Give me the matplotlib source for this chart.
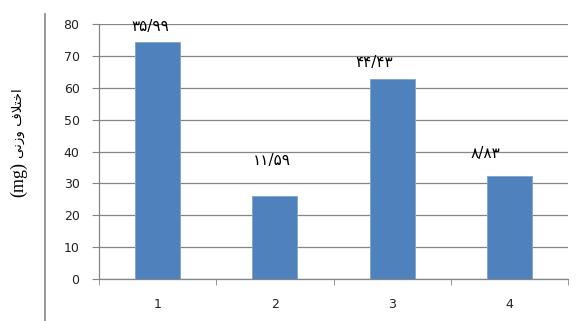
import matplotlib.pyplot as plt
from matplotlib.lines import Line2D

# data
groups = [1, 2, 3, 4]
values = [74.3, 26.0, 62.7, 32.3]
bar_labels = ["\u06F3\u06F5/\u06F9\u06F9", "\u06F1\u06F1/\u06F5\u06F9",
              "\u06F4\u06F4/\u06F4\u06F3", "\u06F8/\u06F8\u06F3"]
y_ticks = [0, 10, 20, 30, 40, 50, 60, 70, 80]

# label nudges (points), labels are not centred on the bars in the original
label_dx = [-5, -2, -13, -17]
label_dy = [11, 26, 12, 16]

# Persian axis title, pre-shaped in visual order since matplotlib does no shaping
persian = "\uFEF0\uFEE7\uFEAF\uFEED \uFED1\uFEFC\uFE98\uFEA7\uFE8D"

grey = "#868686"

fig = plt.figure(figsize=(5.87, 3.21), dpi=100)
ax = fig.add_axes([0.1687, 0.1308, 0.799, 0.7944])

ax.bar(groups, values, width=0.385, color="#4F81BD", edgecolor="#7FA3CF",
       linewidth=0.6, zorder=3)

for x, v, lab, dx, dy in zip(groups, values, bar_labels, label_dx, label_dy):
    ax.annotate(lab, (x, v), xytext=(dx, dy), textcoords="offset points",
                ha="center", va="center", fontsize=11, family="DejaVu Sans")

ax.set_xlim(0.5, 4.5)
ax.set_ylim(0, 80)
ax.set_yticks(y_ticks)
ax.set_xticks(groups)
ax.set_xticks([0.5, 1.5, 2.5, 3.5, 4.5], minor=True)
ax.tick_params(axis="x", which="major", length=0, pad=14, labelsize=9,
               labelcolor="#222222")
ax.tick_params(axis="x", which="minor", length=4, color=grey, direction="out")
ax.tick_params(axis="y", length=5, color=grey, pad=9, labelsize=9,
               labelcolor="#222222")

ax.grid(axis="y", color=grey, linewidth=0.9, zorder=0)
for side in ["top", "right"]:
    ax.spines[side].set_visible(False)
for side in ["left", "bottom"]:
    ax.spines[side].set_color(grey)
    ax.spines[side].set_linewidth(0.9)

# y title: "(mg)" in serif below the Persian words
fig.text(0.031, 0.44, "(mg)", rotation=90, ha="center", va="center",
         fontsize=13, family="Liberation Serif")
fig.text(0.031, 0.615, persian, rotation=90, ha="center", va="center",
         fontsize=9.5, family="DejaVu Sans")

# separator line on the left of the figure
fig.add_artist(Line2D([0.0767, 0.0767], [0.0, 0.955], transform=fig.transFigure,
                      color=grey, linewidth=1.2))

fig.savefig("out.png", dpi=100)
